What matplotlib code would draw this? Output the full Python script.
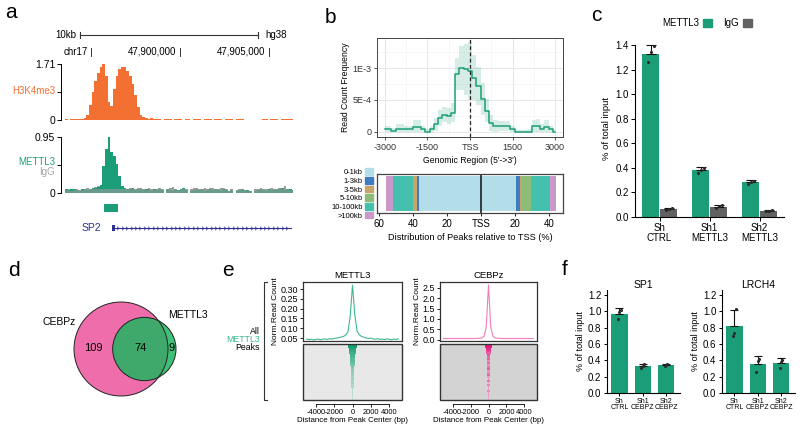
import numpy as np
import matplotlib
matplotlib.use('Agg')
import matplotlib.pyplot as plt
from matplotlib.patches import Rectangle, Circle, Patch
from matplotlib.lines import Line2D
from matplotlib.colors import LinearSegmentedColormap

plt.rcParams['font.family'] = ['Liberation Sans', 'DejaVu Sans']
plt.rcParams['axes.unicode_minus'] = False

# ---------------- data ----------------
# a: genome browser tracks (150 bp bins from trk_start)
trk_start, trk_end = 47893540, 47906300
bin_bp = 150
h3_max, mettl3_max = 1.71, 0.95
h3_vals = [0.02, 0.00, 0.03, 0.02, 0.03, 0.02, 0.03,
           0.05, 0.15, 0.45, 0.85, 1.20, 1.45, 1.62, 1.70, 1.35, 0.55, 0.42,
           0.95, 1.35, 1.55, 1.63, 1.62, 1.50, 1.35, 1.10, 0.75, 0.40, 0.15,
           0.08, 0.05, 0.04, 0.05, 0.03, 0.02,
           0.02, 0.00, 0.02, 0.03, 0.02, 0.00, 0.02, 0.02, 0.03, 0.00,
           0.02, 0.02, 0.00, 0.03, 0.02, 0.02, 0.00, 0.02, 0.03, 0.02,
           0.00, 0.02, 0.02, 0.03, 0.00, 0.02, 0.02, 0.02, 0.00, 0.03,
           0.02, 0.02, 0.00, 0.00, 0.00, 0.00, 0.00, 0.00, 0.00, 0.03,
           0.02, 0.00, 0.02, 0.03, 0.02, 0.00, 0.02, 0.02, 0.03, 0.02, 0.02]
mettl3_vals = [0.06, 0.05, 0.07, 0.06, 0.05, 0.04, 0.06, 0.07, 0.05, 0.06, 0.08, 0.09, 0.10,
               0.14, 0.45, 0.75, 0.95, 0.70, 0.62, 0.50, 0.28, 0.12, 0.09,
               0.07, 0.06, 0.08, 0.05, 0.07, 0.06, 0.05, 0.07, 0.06, 0.04,
               0.06, 0.05, 0.07, 0.05, 0.00, 0.06, 0.05, 0.04, 0.07, 0.05,
               0.06, 0.08, 0.05, 0.00, 0.04, 0.05, 0.06, 0.05, 0.07, 0.04,
               0.05, 0.06, 0.05, 0.07, 0.05, 0.04, 0.06, 0.05, 0.03, 0.05,
               0.00, 0.04, 0.05, 0.06, 0.04, 0.05, 0.03, 0.00, 0.04, 0.05,
               0.06, 0.05, 0.04, 0.06, 0.05, 0.07, 0.05, 0.06, 0.08, 0.05,
               0.06, 0.07, 0.05]
igg_vals = [0.05, 0.06, 0.04, 0.05, 0.06, 0.05, 0.05, 0.06, 0.08, 0.07, 0.09, 0.10, 0.12,
            0.14, 0.15, 0.13, 0.15, 0.14, 0.12, 0.13, 0.11, 0.10, 0.08,
            0.06, 0.08, 0.07, 0.06, 0.09, 0.08, 0.06, 0.05, 0.08, 0.06,
            0.05, 0.07, 0.09, 0.06, 0.00, 0.07, 0.08, 0.10, 0.06, 0.05,
            0.07, 0.09, 0.06, 0.00, 0.06, 0.08, 0.09, 0.07, 0.06, 0.08,
            0.07, 0.09, 0.08, 0.06, 0.07, 0.09, 0.08, 0.06, 0.04, 0.06,
            0.00, 0.05, 0.07, 0.06, 0.05, 0.04, 0.03, 0.00, 0.06, 0.07,
            0.08, 0.06, 0.07, 0.05, 0.08, 0.06, 0.07, 0.09, 0.07, 0.12,
            0.06, 0.05, 0.04]
scale_start, scale_len = 47894400, 10000
coord_pos = [47895000, 47900000, 47905000]
coord_lab = ['chr17', '47,900,000', '47,905,000']
peak_start, peak_end = 47895730, 47896530
gene_start = 47896200

# b: METTL3 read count profile around TSS (units of 1E-3)
prof_x = [-3000, -2850, -2700, -2550, -2400, -2250, -2100, -1950, -1800, -1650,
          -1500, -1350, -1200, -1050, -900, -750, -600, -450, -300, -150,
          0, 150, 300, 450, 600, 750, 900, 1050, 1200, 1350,
          1500, 1650, 1800, 1950, 2100, 2250, 2400, 2550, 2700, 2850, 3000]
prof_y = [0.04, 0.04, 0.01, 0.04, 0.04, 0.04, 0.04, 0.08, 0.08, 0.04,
          0.00, 0.04, 0.12, 0.22, 0.27, 0.25, 0.30, 0.90, 1.00, 0.98,
          0.95, 0.85, 0.72, 0.52, 0.33, 0.14, 0.09, 0.09, 0.09, 0.09,
          0.04, 0.00, 0.00, 0.00, 0.00, 0.09, 0.10, 0.05, 0.08, 0.04, 0.00]
prof_sd = [0.06, 0.06, 0.05, 0.08, 0.08, 0.06, 0.05, 0.10, 0.10, 0.06,
           0.05, 0.06, 0.10, 0.12, 0.12, 0.12, 0.15, 0.25, 0.35, 0.40,
           0.45, 0.35, 0.30, 0.25, 0.18, 0.12, 0.10, 0.08, 0.08, 0.08,
           0.06, 0.03, 0.03, 0.03, 0.05, 0.10, 0.10, 0.08, 0.10, 0.06, 0.03]
dist_cats = ['0-1kb', '1-3kb', '3-5kb', '5-10kb', '10-100kb', '>100kb']
dist_up = [36.8, 1.2, 2.0, 0.0, 11.8, 4.0]
dist_down = [20.4, 2.9, 1.0, 5.5, 11.2, 3.2]

# c: ChIP-qPCR METTL3 knockdown
c_groups = ['Sh\nCTRL', 'Sh1\nMETTL3', 'Sh2\nMETTL3']
c_mettl3 = [1.33, 0.38, 0.285]
c_mettl3_err = [0.07, 0.025, 0.02]
c_mettl3_pts = [[1.26, 1.34, 1.39], [0.36, 0.385, 0.395], [0.27, 0.285, 0.29]]
c_igg = [0.065, 0.085, 0.05]
c_igg_err = [0.007, 0.01, 0.006]
c_igg_pts = [[0.06, 0.065, 0.07], [0.075, 0.09, 0.095], [0.045, 0.05, 0.055]]

# d: peak overlap
venn_cebpz_only, venn_both, venn_mettl3_only = 109, 74, 9

# e: average profiles and heatmaps around METTL3 peaks
e_x = list(range(-5000, 5001, 250))
e_mettl3 = [0.045, 0.042, 0.044, 0.040, 0.043, 0.045, 0.041, 0.044, 0.046, 0.043,
            0.047, 0.045, 0.048, 0.050, 0.052, 0.055, 0.058, 0.065, 0.080, 0.160,
            0.320, 0.170, 0.085, 0.066, 0.058, 0.054, 0.050, 0.048, 0.050, 0.046,
            0.044, 0.047, 0.043, 0.045, 0.042, 0.046, 0.044, 0.041, 0.045, 0.043, 0.046]
e_cebpz = [0.05, 0.05, 0.05, 0.05, 0.05, 0.05, 0.05, 0.05, 0.05, 0.05,
           0.05, 0.05, 0.05, 0.05, 0.05, 0.06, 0.06, 0.08, 0.15, 0.60,
           2.65, 0.60, 0.15, 0.08, 0.06, 0.06, 0.05, 0.05, 0.05, 0.05,
           0.05, 0.05, 0.05, 0.05, 0.05, 0.05, 0.05, 0.05, 0.05, 0.05, 0.05]
hm_mettl3_w = [900, 850, 800, 700, 650, 600, 550, 500, 500, 450, 450, 400, 400, 350,
               350, 300, 300, 300, 250, 250, 250, 250, 200, 200, 200, 200, 200, 150]
hm_mettl3_v = [1.0, 0.95, 0.9, 0.85, 0.8, 0.8, 0.75, 0.7, 0.7, 0.65, 0.6, 0.6, 0.55, 0.5,
               0.5, 0.45, 0.4, 0.45, 0.35, 0.4, 0.3, 0.35, 0.3, 0.25, 0.3, 0.2, 0.25, 0.15]
hm_cebpz_w = [700, 650, 600, 500, 450, 400, 350, 300, 300, 300, 250, 250, 300, 250,
              250, 300, 250, 200, 250, 200, 250, 200, 200, 250, 200, 200, 200, 150]
hm_cebpz_v = [1.0, 0.95, 0.9, 0.8, 0.7, 0.75, 0.6, 0.7, 0.5, 0.65, 0.45, 0.6, 0.7, 0.4,
              0.55, 0.65, 0.35, 0.5, 0.6, 0.3, 0.55, 0.4, 0.3, 0.5, 0.35, 0.45, 0.3, 0.25]

# f: ChIP-qPCR CEBPZ knockdown
f_groups = ['Sh\nCTRL', 'Sh1\nCEBPZ', 'Sh2\nCEBPZ']
sp1_mean = [0.97, 0.325, 0.345]
sp1_err = [0.07, 0.035, 0.015]
sp1_pts = [[0.90, 0.99, 1.01], [0.30, 0.33, 0.35], [0.335, 0.345, 0.355]]
lrch4_mean = [0.82, 0.36, 0.37]
lrch4_err = [0.19, 0.09, 0.06]
lrch4_pts = [[0.70, 0.73, 1.03], [0.26, 0.39, 0.42], [0.30, 0.38, 0.40]]

# ---------------- styling ----------------
GREEN = '#1B9E77'
ORANGE = '#F36F32'
NAVY = '#2E3192'
IGG_BAR = '#616161'
dist_colors = ['#B3DDE8', '#3E7DBF', '#C8A46A', '#8CBC77', '#45BFAE', '#C99AC9']

W, H = 800, 430
fig = plt.figure(figsize=(8, 4.3), dpi=100)


def px_axes(x0, y0, x1, y1):
    return fig.add_axes([x0 / W, 1 - y1 / H, (x1 - x0) / W, (y1 - y0) / H])


def ftext(x, y, s, **kw):
    fig.text(x / W, 1 - y / H, s, **kw)


def fline(xs, ys, **kw):
    fig.add_artist(Line2D([x / W for x in xs], [1 - y / H for y in ys],
                          transform=fig.transFigure, **kw))


for lab, x, y in [('a', 5, 18), ('b', 325, 23), ('c', 591, 21),
                  ('d', 8, 276), ('e', 222, 276), ('f', 562, 275)]:
    ftext(x, y, lab, size=15, va='baseline')

# ---------------- a ----------------
edges = trk_start + bin_bp * np.arange(len(h3_vals) + 1)

ax_hd = px_axes(65, 25, 292, 60)
ax_hd.set_xlim(trk_start, trk_end)
ax_hd.set_ylim(60, 25)
ax_hd.axis('off')
sb_end = scale_start + scale_len
ax_hd.plot([scale_start, sb_end], [35, 35], color='#333', lw=0.8)
ax_hd.plot([scale_start, scale_start], [32, 38], color='#333', lw=0.8)
ax_hd.plot([sb_end, sb_end], [32, 38], color='#333', lw=0.8)
ax_hd.text(scale_start - 250, 35, '10kb', ha='right', va='center', size=7)
ax_hd.text(sb_end + 380, 35, 'hg38', ha='left', va='center', size=7)
for pos, lab in zip(coord_pos, coord_lab):
    ax_hd.plot([pos, pos], [48, 56], color='#333', lw=0.7)
    ax_hd.text(pos - 200, 52, lab, ha='right', va='center', size=7)


def track_axes(y0, y1, ymax, top_lab):
    ax = px_axes(65, y0, 292, y1)
    ax.set_xlim(trk_start, trk_end)
    ax.set_ylim(0, ymax)
    for s in ['top', 'right', 'bottom']:
        ax.spines[s].set_visible(False)
    ax.spines['left'].set_position(('outward', 3))
    ax.spines['left'].set_linewidth(0.7)
    ax.set_xticks([])
    ax.set_yticks([0, ymax / 2, ymax])
    ax.set_yticklabels(['0', '', top_lab])
    ax.tick_params(axis='y', length=3, width=0.7, labelsize=7.5, pad=1)
    return ax


ax_h3 = track_axes(64, 120, h3_max, '1.71')
ax_h3.fill_between(edges, np.append(h3_vals, h3_vals[-1]), step='post',
                   color=ORANGE, lw=0)
ftext(55, 91, 'H3K4me3', color=ORANGE, ha='right', va='center', size=7)

ax_mt = track_axes(137, 193, mettl3_max, '0.95')
ax_mt.fill_between(edges, np.append(igg_vals, igg_vals[-1]), step='post',
                   color='#9B9B9B', lw=0)
ax_mt.fill_between(edges, np.append(mettl3_vals, mettl3_vals[-1]), step='post',
                   color=GREEN, lw=0)
ax_mt.fill_between(edges, np.minimum(np.append(igg_vals, igg_vals[-1]), 0.06), step='post',
                   color='#9B9B9B', lw=0, alpha=0.6)
ftext(55, 162, 'METTL3', color=GREEN, ha='right', va='center', size=7)
ftext(55, 172, 'IgG', color='#A5A5A5', ha='right', va='center', size=7)

ax_g = px_axes(65, 198, 292, 236)
ax_g.set_xlim(trk_start, trk_end)
ax_g.set_ylim(236, 198)
ax_g.axis('off')
ax_g.add_patch(Rectangle((peak_start, 204), peak_end - peak_start, 8, color=GREEN, lw=0))
ax_g.plot([gene_start, trk_end - 80], [228, 228], color=NAVY, lw=0.8)
ax_g.add_patch(Rectangle((gene_start, 225), 140, 6, color=NAVY, lw=0))
chev = np.arange(gene_start + 330, trk_end - 100, 250)
ax_g.plot(chev, [228] * len(chev), ls='none', marker='4', ms=3.2, mew=0.6, color=NAVY)
ax_g.text(gene_start - 600, 228, 'SP2', ha='right', va='center', size=7.5, color=NAVY)

# ---------------- b ----------------
ax_bt = px_axes(377, 38, 563, 137)
py = np.array(prof_y)
ps = np.array(prof_sd)
ax_bt.fill_between(prof_x, np.maximum(py - ps, 0), py + ps, step='mid',
                   color=GREEN, alpha=0.18, lw=0)
ax_bt.plot(prof_x, py, drawstyle='steps-mid', color=GREEN, lw=1.1)
ax_bt.axvline(0, color='#222', ls=(0, (3, 2)), lw=0.9)
ax_bt.set_xlim(-3280, 3280)
ax_bt.set_ylim(-0.08, 1.47)
ax_bt.set_xticks([-3000, -1500, 0, 1500, 3000])
ax_bt.set_xticklabels(['-3000', '-1500', 'TSS', '1500', '3000'])
ax_bt.set_xticks([-2250, -750, 750, 2250], minor=True)
ax_bt.set_yticks([0, 0.5, 1.0])
ax_bt.set_yticklabels(['0', '5E-4', '1E-3'])
ax_bt.set_yticks([0.25, 0.75, 1.25], minor=True)
ax_bt.grid(which='major', color='#E6E6E6', lw=0.7)
ax_bt.grid(which='minor', color='#F1F1F1', lw=0.4)
ax_bt.set_axisbelow(True)
ax_bt.tick_params(which='major', length=2.5, width=0.6, labelsize=6.5, colors='#333', pad=1.5)
ax_bt.tick_params(which='minor', length=0)
for s in ax_bt.spines.values():
    s.set_color('#444')
    s.set_linewidth(0.7)
ax_bt.set_ylabel('Read Count Frequency', size=6.2, labelpad=2)
ax_bt.set_xlabel("Genomic Region (5'->3')", size=6.2, labelpad=3)

ax_bb = px_axes(377, 174, 563, 213)
cum = 0
for v, c in zip(dist_up, dist_colors):
    ax_bb.barh(0, -v, left=-cum, height=0.92, color=c, lw=0)
    cum += v
cum = 0
for v, c in zip(dist_down, dist_colors):
    ax_bb.barh(0, v, left=cum, height=0.92, color=c, lw=0)
    cum += v
ax_bb.axvline(0, color='#111', lw=1.1)
ax_bb.set_xlim(-61.3, 48.4)
ax_bb.set_ylim(-0.5, 0.5)
ax_bb.set_yticks([])
ax_bb.set_xticks([-60, -40, -20, 0, 20, 40])
ax_bb.set_xticklabels(['60', '40', '20', 'TSS', '20', '40'])
ax_bb.tick_params(axis='x', length=2.5, width=0.6, labelsize=7, pad=1.5)
for s in ax_bb.spines.values():
    s.set_color('#444')
    s.set_linewidth(0.9)
ax_bb.set_xlabel('Distribution of Peaks relative to TSS (%)', size=6.6, labelpad=3)
fig.legend([Patch(color=c) for c in dist_colors], dist_cats, loc='center right',
           bbox_to_anchor=(373 / W, 1 - 194 / H), markerfirst=False, frameon=False,
           fontsize=5.5, handlelength=1.0, handleheight=1.0, labelspacing=0.08,
           handletextpad=0.3, borderpad=0, borderaxespad=0)

# ---------------- c ----------------
ax_c = px_axes(635, 40, 784, 217)
xc = np.arange(len(c_groups))
jit = [-0.06, 0.0, 0.06]
ax_c.bar(xc - 0.18, c_mettl3, width=0.35, color=GREEN, lw=0)
ax_c.bar(xc + 0.18, c_igg, width=0.35, color=IGG_BAR, lw=0)
ax_c.errorbar(xc - 0.18, c_mettl3, yerr=[np.zeros(3), c_mettl3_err], fmt='none',
              ecolor='#111', elinewidth=0.8, capsize=3.5, capthick=0.8)
ax_c.errorbar(xc + 0.18, c_igg, yerr=[np.zeros(3), c_igg_err], fmt='none',
              ecolor='#111', elinewidth=0.8, capsize=3.5, capthick=0.8)
for i in range(len(c_groups)):
    ax_c.scatter([xc[i] - 0.18 + j for j in jit], c_mettl3_pts[i], s=5, color='#2A2A2A', zorder=3, lw=0)
    ax_c.scatter([xc[i] + 0.18 + j for j in jit], c_igg_pts[i], s=5, color='#2A2A2A', zorder=3, lw=0)
ax_c.set_xlim(-0.49, 2.49)
ax_c.set_ylim(0, 1.44)
ax_c.set_yticks(np.arange(0, 1.41, 0.2))
ax_c.set_yticklabels([f'{v:.1f}' for v in np.arange(0, 1.41, 0.2)])
ax_c.spines['left'].set_bounds(0, 1.4)
ax_c.set_xticks(xc)
ax_c.set_xticklabels(c_groups, linespacing=0.95)
for s in ['top', 'right']:
    ax_c.spines[s].set_visible(False)
ax_c.tick_params(length=3, width=0.7, labelsize=7, pad=1.5)
ax_c.set_ylabel('% of total input', size=6.8, labelpad=3)
fig.legend([Patch(color=GREEN), Patch(color=IGG_BAR)], ['METTL3', 'IgG'], loc='center',
           bbox_to_anchor=(707 / W, 1 - 23 / H), ncol=2, markerfirst=False, frameon=False,
           fontsize=7, handlelength=0.9, handleheight=0.9, handletextpad=0.4,
           columnspacing=1.2, borderpad=0)

# ---------------- d ----------------
n_cebpz = venn_cebpz_only + venn_both
n_mettl3 = venn_mettl3_only + venn_both
r1 = np.sqrt(n_cebpz / np.pi)
r2 = np.sqrt(n_mettl3 / np.pi)


def lens_area(d):
    a1 = r1 ** 2 * np.arccos((d ** 2 + r1 ** 2 - r2 ** 2) / (2 * d * r1))
    a2 = r2 ** 2 * np.arccos((d ** 2 + r2 ** 2 - r1 ** 2) / (2 * d * r2))
    a3 = 0.5 * np.sqrt((-d + r1 + r2) * (d + r1 - r2) * (d - r1 + r2) * (d + r1 + r2))
    return a1 + a2 - a3


lo, hi = r1 - r2 + 1e-6, r1 + r2 - 1e-6
for _ in range(60):
    mid = (lo + hi) / 2
    if lens_area(mid) > venn_both:
        lo = mid
    else:
        hi = mid
dist = (lo + hi) / 2

ax_d = px_axes(40, 285, 230, 420)
scale = 47.0 / r1
c1x_px, c1y_px = 121, 349
ax_d.set_xlim(-(c1x_px - 40) / scale, (230 - c1x_px) / scale)
ax_d.set_ylim(-(420 - c1y_px) / scale, (c1y_px - 285) / scale)
ax_d.axis('off')
big = Circle((0, 0), r1, color='#EF6DAB', lw=0)
ax_d.add_patch(big)
ax_d.add_patch(Circle((dist, 0), r2, color='#3EC176', lw=0))
inter = Circle((dist, 0), r2, color='#3FA96B', lw=0)
ax_d.add_patch(inter)
inter.set_clip_path(big)
ax_d.add_patch(Circle((0, 0), r1, fill=False, ec='#222', lw=0.7))
ax_d.add_patch(Circle((dist, 0), r2, fill=False, ec='#222', lw=0.7))
ax_d.text((-r1 + dist - r2) / 2, 0.2, str(venn_cebpz_only), ha='center', va='center', size=8)
ax_d.text((r1 + dist - r2) / 2, 0.2, str(venn_both), ha='center', va='center', size=8)
ax_d.text((r1 + dist + r2) / 2, 0.2, str(venn_mettl3_only), ha='center', va='center', size=8)
ax_d.text(-r1 * 0.97, r1 * 0.58, 'CEBPz', ha='right', va='center', size=7.5)
ax_d.text(dist + r2 * 0.75, r2 * 1.07, 'METTL3', ha='left', va='center', size=7.5)

# ---------------- e ----------------
fline([267, 264, 264, 267], [282, 282, 400, 400], color='#333', lw=0.8)
ftext(260, 331, 'All', ha='right', va='center', size=6.3)
ftext(260, 339.5, 'METTL3', ha='right', va='center', size=6.3, color='#3DB88F')
ftext(260, 348, 'Peaks', ha='right', va='center', size=6.3)

hm_cols = np.linspace(-5400, 5400, 109)


def profile_axes(x0, x1, xs, ys, color, ylim, yticks, ylabs, title):
    ax = px_axes(x0, 282, x1, 341)
    ax.plot(xs, ys, color=color, lw=0.8)
    ax.set_xlim(-5400, 5400)
    ax.set_ylim(*ylim)
    ax.set_xticks([])
    ax.set_yticks(yticks)
    ax.set_yticklabels(ylabs)
    ax.tick_params(axis='y', length=2.5, width=0.6, labelsize=6.5, pad=1)
    for s in ax.spines.values():
        s.set_color('#333')
        s.set_linewidth(0.9)
    ax.set_ylabel('Norm.Read Count', size=6, labelpad=1)
    ax.set_title(title, size=6.8, pad=3)
    return ax


def heatmap_axes(x0, x1, widths, vals, colors):
    ax = px_axes(x0, 344, x1, 400)
    mat = np.array([[v if abs(c) < w / 2 else 0.0 for c in hm_cols]
                    for w, v in zip(widths, vals)])
    cmap = LinearSegmentedColormap.from_list('hm', colors)
    ax.imshow(mat, aspect='auto', cmap=cmap, vmin=0, vmax=1, interpolation='nearest',
              extent=(-5400, 5400, len(widths), 0))
    ax.set_xlim(-5400, 5400)
    ax.set_yticks([])
    for s in ax.spines.values():
        s.set_visible(False)
    ax.spines['bottom'].set_visible(True)
    ax.spines['bottom'].set_position(('outward', 3))
    ax.spines['bottom'].set_bounds(-4000, 4000)
    ax.spines['bottom'].set_linewidth(0.6)
    ax.add_patch(Rectangle((0, 0), 1, 1, transform=ax.transAxes, fill=False,
                           ec='#333', lw=1.0, clip_on=False))
    ax.set_xticks([-4000, -2000, 0, 2000, 4000])
    ax.tick_params(axis='x', length=2.5, width=0.6, labelsize=5.4, pad=1)
    ax.set_xlabel('Distance from Peak Center (bp)', size=5.7, labelpad=1)
    return ax


profile_axes(303, 402, e_x, e_mettl3, '#3DB88F', (0.035, 0.336),
             [0.05, 0.10, 0.15, 0.20, 0.25, 0.30],
             ['0.05', '0.10', '0.15', '0.20', '0.25', '0.30'], 'METTL3')
heatmap_axes(303, 402, hm_mettl3_w, hm_mettl3_v, ['#E8E8E8', '#8FD1B8', '#0E9A6E'])
profile_axes(440, 537, e_x, e_cebpz, '#F27DBB', (-0.07, 2.79),
             [0, 0.5, 1.0, 1.5, 2.0, 2.5],
             ['0.0', '0.5', '1.0', '1.5', '2.0', '2.5'], 'CEBPz')
heatmap_axes(440, 537, hm_cebpz_w, hm_cebpz_v, ['#D3D3D3', '#F08CBE', '#E3137C'])

# ---------------- f ----------------


def qpcr_axes(x0, x1, means, errs, pts, title):
    ax = px_axes(x0, 290, x1, 393)
    xf = np.arange(len(f_groups))
    ax.bar(xf, means, width=0.7, color=GREEN, lw=0)
    ax.errorbar(xf, means, yerr=[np.zeros(3), errs], fmt='none', ecolor='#111',
                elinewidth=0.8, capsize=3.2, capthick=0.8)
    for i in range(len(f_groups)):
        ax.scatter([xf[i] + j for j in jit], pts[i], s=5, color='#2A2A2A', zorder=3, lw=0)
    ax.set_xlim(-0.53, 2.6)
    ax.set_ylim(0, 1.26)
    ax.set_yticks(np.arange(0, 1.21, 0.2))
    ax.set_yticklabels([f'{v:.1f}' for v in np.arange(0, 1.21, 0.2)])
    ax.set_xticks(xf)
    ax.set_xticklabels(f_groups, linespacing=0.9)
    for s in ['top', 'right']:
        ax.spines[s].set_visible(False)
    ax.tick_params(axis='y', length=2.5, width=0.7, labelsize=7, pad=1.5)
    ax.tick_params(axis='x', length=2.5, width=0.7, labelsize=5, pad=1)
    ax.set_ylabel('% of total input', size=6.5, labelpad=2)
    ax.set_title(title, size=7.5, pad=1)
    return ax


qpcr_axes(607, 680, sp1_mean, sp1_err, sp1_pts, 'SP1')
qpcr_axes(722, 795, lrch4_mean, lrch4_err, lrch4_pts, 'LRCH4')

fig.savefig('out.png', dpi=100)
